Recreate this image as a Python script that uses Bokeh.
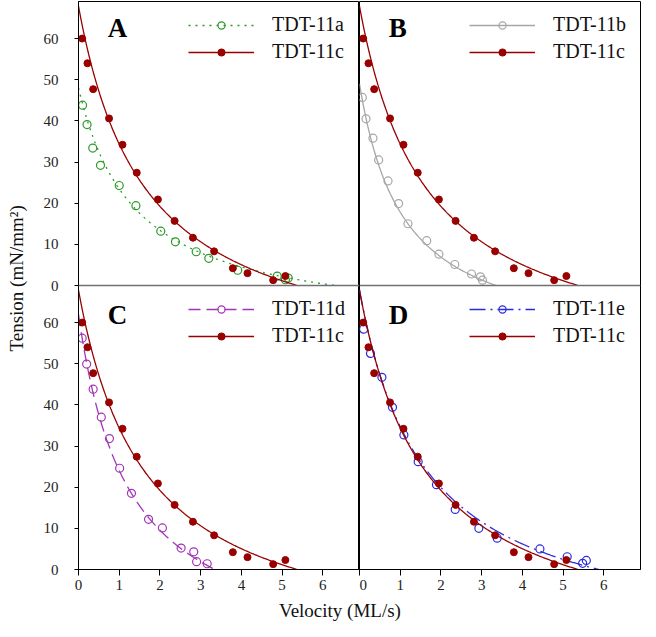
import numpy as np
from bokeh.plotting import figure
from bokeh.models import (Range1d, Legend, LegendItem, Label, GridBox, FixedTicker, Span)
from bokeh.embed import file_html
from bokeh.resources import INLINE
from bokeh.core.properties import value

# ---------------- data ----------------
# TDT-11c : reference series, shown in every panel
v_11c = [0.09, 0.22, 0.36, 0.75, 1.08, 1.43, 1.95, 2.36, 2.81, 3.33, 3.79, 4.15, 4.78, 5.08]
t_11c = [60.0, 54.0, 47.7, 40.6, 34.2, 27.4, 20.9, 15.7, 11.6, 8.3, 4.2, 3.0, 1.3, 2.3]
# TDT-11a (panel A)
v_11a = [0.10, 0.21, 0.35, 0.54, 1.00, 1.41, 2.02, 2.38, 2.89, 3.20, 3.91, 4.88, 5.08, 5.15]
t_11a = [43.8, 39.1, 33.4, 29.2, 24.3, 19.4, 13.2, 10.6, 8.2, 6.6, 3.7, 2.3, 1.4, 1.8]
# TDT-11b (panel B)
v_11b = [0.07, 0.16, 0.33, 0.47, 0.70, 0.96, 1.19, 1.65, 1.95, 2.34, 2.75, 2.97, 3.02]
t_11b = [45.7, 40.5, 35.8, 30.5, 25.4, 19.9, 15.0, 10.9, 7.6, 5.1, 2.8, 2.1, 1.3]
# TDT-11d (panel C)
v_11d = [0.09, 0.20, 0.36, 0.56, 0.76, 1.01, 1.30, 1.72, 2.06, 2.52, 2.83, 2.90, 3.16]
t_11d = [56.2, 49.9, 43.8, 37.0, 31.8, 24.6, 18.5, 12.2, 10.1, 5.2, 4.3, 1.9, 1.4]
# TDT-11e (panel D)
v_11e = [0.10, 0.27, 0.55, 0.81, 1.09, 1.44, 1.89, 2.35, 2.93, 3.38, 4.43, 5.10, 5.48, 5.57]
t_11e = [58.4, 52.5, 46.7, 39.4, 32.7, 26.2, 20.6, 14.6, 10.0, 7.6, 5.0, 3.1, 1.5, 2.2]

# Hill fit parameters (a, b, Vmax): T = a (Vmax - v) / (v + b)
hill_11c = (20.8, 1.646, 5.37)
hill_11a = (10.57, 1.387, 6.30)
hill_11b = (15.73, 1.075, 3.35)
hill_11d = (22.9, 1.238, 3.35)
hill_11e = (18.49, 1.60, 5.88)

x_ticks = [0, 1, 2, 3, 4, 5, 6]
y_ticks = [0, 10, 20, 30, 40, 50, 60]
x_label = "Velocity (ML/s)"
y_label = "Tension (mN/mm\u00b2)"

X_MAX = 6.9
Y_MAX = 69.0   # tension range of each panel

SERIF = "Liberation Serif"
RED = "#990000"

FW, FH = 281, 284          # frame size of one panel
LEG_W = 159                # approx legend width (glyph + standoff + label)
LEG_H = 50                 # two rows of ~23 px text + 4 px spacing


def hill_curve(params):
    a, b, vmax = params
    v = np.linspace(0.0, vmax, 300)
    return v, a * (vmax - v) / (v + b)


def make_column(left):
    # one figure holds an upper panel (range "top") and a lower panel (default range)
    p = figure(frame_width=FW, frame_height=2 * FH,
               x_range=Range1d(0, X_MAX), y_range=Range1d(0, 2 * Y_MAX),
               extra_y_ranges={"top": Range1d(-Y_MAX, Y_MAX)},
               output_backend="svg", toolbar_location=None,
               x_axis_location="below",
               y_axis_location="left" if left else None,
               min_border_left=37 if left else 0,
               min_border_right=0 if left else 1,
               min_border_top=1, min_border_bottom=30)
    p.xgrid.grid_line_color = None
    p.ygrid.grid_line_color = None
    p.outline_line_color = "black"
    p.outline_line_width = 1
    for ax in p.xaxis:
        ax.ticker = FixedTicker(ticks=x_ticks)
        ax.major_tick_out = 6
        ax.major_tick_in = 0
        ax.major_label_standoff = 4
    for ax in p.yaxis:
        # lower panel ticks, then the same tension ticks for the upper panel
        ax.ticker = FixedTicker(ticks=y_ticks + [t + Y_MAX for t in y_ticks])
        ax.major_label_overrides = {float(t + Y_MAX): str(t) for t in y_ticks}
        ax.major_tick_out = 4
        ax.major_tick_in = 0
        ax.major_label_standoff = 16
    for ax in list(p.xaxis) + list(p.yaxis):
        ax.minor_tick_line_color = None
        ax.axis_line_color = "black"
        ax.major_tick_line_color = "black"
        ax.major_label_text_font = SERIF
        ax.major_label_text_font_size = "15px"
        ax.major_label_text_color = "#222222"
    # zero line of the upper panel
    p.add_layout(Span(location=0, dimension="width", y_range_name="top",
                      line_color="#707070", line_width=1.5))
    return p


def add_series(p, rng, v, t, params, color, dash, name, letter, letter_y):
    cv, ct = hill_curve(params)
    l1 = p.line(cv, ct, line_color=color, line_width=1.3, line_dash=dash, y_range_name=rng)
    s1 = p.scatter(v, t, size=8, marker="circle", fill_color="white", fill_alpha=0,
                   line_color=color, line_width=1.2, y_range_name=rng)
    rv, rt = hill_curve(hill_11c)
    l2 = p.line(rv, rt, line_color=RED, line_width=1.3, y_range_name=rng)
    s2 = p.scatter(v_11c, t_11c, size=7, marker="circle", fill_color=RED, line_color=RED,
                   y_range_name=rng)
    panel_top = 2 * FH if rng == "top" else FH
    loc = (FW - 12 - LEG_W, panel_top - 12 - LEG_H)
    leg = Legend(items=[LegendItem(label=name, renderers=[l1, s1]),
                        LegendItem(label="TDT-11c", renderers=[l2, s2])],
                 location=loc, margin=0, padding=0, spacing=4,
                 glyph_width=66, glyph_height=18, label_height=18, label_standoff=18,
                 label_text_font=SERIF, label_text_font_size="20px",
                 label_text_color="#111111",
                 border_line_color=None, background_fill_alpha=0)
    p.add_layout(leg)
    p.add_layout(Label(x=0.72, y=letter_y, y_range_name=rng, text=letter, text_font=SERIF,
                       text_font_style="bold", text_font_size="27px",
                       text_baseline="middle", text_align="left", text_color="black"))


pL = make_column(True)
add_series(pL, "top", v_11a, t_11a, hill_11a, "#2a9a2a", "2 5", "TDT-11a", "A", 62.6)
add_series(pL, "default", v_11d, t_11d, hill_11d, "#a334b8", "12 6", "TDT-11d", "C", 61.8)
pR = make_column(False)
add_series(pR, "top", v_11b, t_11b, hill_11b, "#a6a6a6", "solid", "TDT-11b", "B", 62.6)
add_series(pR, "default", v_11e, t_11e, hill_11e, "#2a2ae0", "16 5 2 5", "TDT-11e", "D", 61.8)

# axis titles shared by the panels
YL_W, YL_H = 40, 1 + 2 * FH + 30
ylab = figure(width=YL_W, height=YL_H, x_range=Range1d(0, YL_W), y_range=Range1d(YL_H, 0),
              output_backend="svg", toolbar_location=None, min_border=0,
              x_axis_location=None, y_axis_location=None, outline_line_color=None)
ylab.xgrid.grid_line_color = None
ylab.ygrid.grid_line_color = None
ylab.text(x=[16], y=[292], text=[y_label], angle=np.pi / 2, text_align="center",
          text_baseline="middle", text_font=value(SERIF), text_font_size="19px",
          text_color="#111111")

XL_W, XL_H = 640, 22
xlab = figure(width=XL_W, height=XL_H, x_range=Range1d(0, XL_W), y_range=Range1d(XL_H, 0),
              output_backend="svg", toolbar_location=None, min_border=0,
              x_axis_location=None, y_axis_location=None, outline_line_color=None)
xlab.xgrid.grid_line_color = None
xlab.ygrid.grid_line_color = None
xlab.text(x=[340], y=[11], text=[x_label], text_align="center", text_baseline="middle",
          text_font=value(SERIF), text_font_size="19px", text_color="#111111")

grid = GridBox(children=[(ylab, 0, 0), (pL, 0, 1), (pR, 0, 2), (xlab, 1, 0, 1, 3)], spacing=0)

open("out.html", "w").write(file_html(grid, INLINE))
